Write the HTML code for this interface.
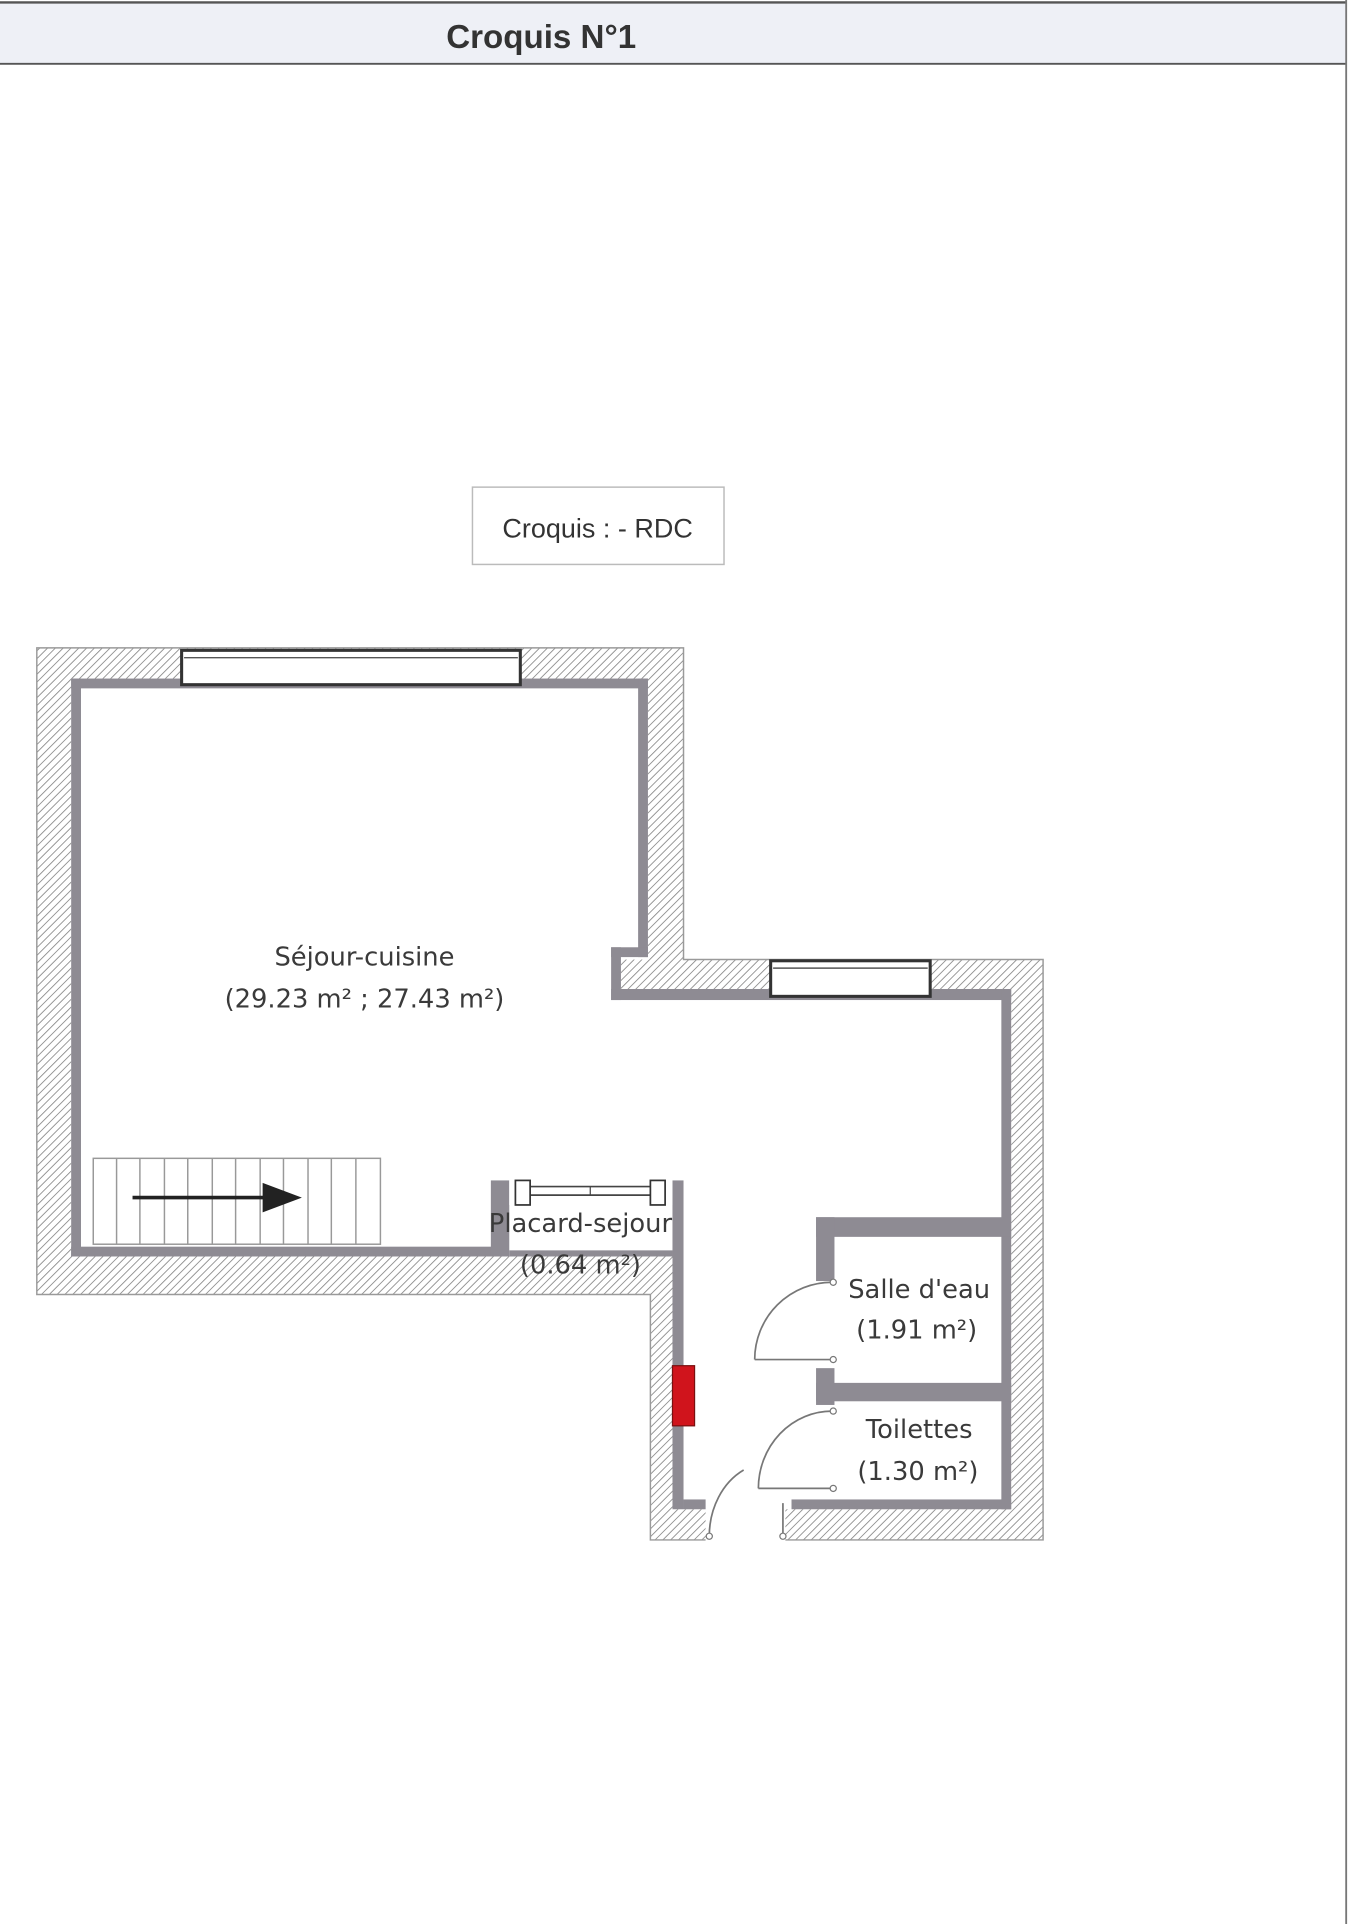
<!DOCTYPE html>
<html><head><meta charset="utf-8">
<style>
html,body{margin:0;padding:0;background:#fff;width:1356px;height:1924px;overflow:hidden}
svg{display:block}
text{font-family:"Liberation Sans",sans-serif;fill:#333}
.l{font-family:"DejaVu Sans",sans-serif;font-size:21px;fill:#3a3a3a;text-anchor:middle}
</style></head><body>
<svg width="1356" height="1924" viewBox="0 0 1105 1568" preserveAspectRatio="none" xmlns="http://www.w3.org/2000/svg">
<defs>
<pattern id="h" width="4.5" height="4.5" patternUnits="userSpaceOnUse" patternTransform="rotate(45)">
<rect width="4.5" height="4.5" fill="#fff"/><line x1="0" y1="0" x2="0" y2="4.5" stroke="#8a8a8a" stroke-width="1.4"/>
</pattern>
</defs>
<!-- header -->
<rect x="0" y="2" width="1097" height="50" fill="#eef0f6"/>
<line x1="0" y1="2" x2="1097" y2="2" stroke="#555" stroke-width="2"/>
<line x1="0" y1="52" x2="1097" y2="52" stroke="#555" stroke-width="1.5"/>
<line x1="1097" y1="0" x2="1097" y2="1568" stroke="#777" stroke-width="1.5"/>
<text x="441" y="39" font-size="27" font-weight="bold" text-anchor="middle" fill="#444">Croquis N°1</text>
<!-- title box -->
<rect x="385" y="397" width="205" height="63" fill="#fff" stroke="#bbb" stroke-width="1.2"/>
<text x="487" y="438" font-size="22" text-anchor="middle" fill="#444">Croquis : - RDC</text>
<!-- hatched walls -->
<g fill="url(#h)">
<rect x="30" y="528" width="527" height="25"/>
<rect x="30" y="528" width="28" height="527"/>
<rect x="30" y="1024" width="518" height="31"/>
<rect x="528" y="528" width="29" height="254"/>
<rect x="506" y="782" width="344" height="24"/>
<rect x="824" y="782" width="26" height="473"/>
<rect x="640" y="1230" width="210" height="25"/>
<rect x="530" y="1230" width="45" height="25"/>
<rect x="530" y="1024" width="18" height="231"/>
</g>
<!-- outer outline -->
<g fill="none" stroke="#9a9a9a" stroke-width="1.2">
<path d="M575,1255 L530,1255 L530,1055 L30,1055 L30,528 L557,528 L557,782 L850,782 L850,1255 L640,1255"/>
</g>
<!-- grey inner walls -->
<g fill="#8e8b93">
<rect x="58" y="553" width="470" height="8"/>
<rect x="58" y="553" width="8" height="471"/>
<rect x="58" y="1016" width="350" height="8"/>
<rect x="400" y="962" width="15" height="62"/>
<rect x="415" y="1019" width="133" height="5"/>
<rect x="548" y="962" width="9" height="268"/>
<rect x="520" y="553" width="8" height="227"/>
<rect x="498" y="772" width="30" height="8"/>
<rect x="498" y="772" width="8" height="43"/>
<rect x="498" y="806" width="326" height="9"/>
<rect x="816" y="806" width="8" height="424"/>
<rect x="557" y="1222" width="18" height="8"/>
<rect x="645" y="1222" width="179" height="8"/>
<rect x="665" y="992" width="159" height="16"/>
<rect x="665" y="992" width="15" height="52"/>
<rect x="665" y="1115" width="15" height="30"/>
<rect x="665" y="1127" width="159" height="15"/>
</g>
<!-- windows -->
<rect x="148" y="530" width="276" height="28" fill="#fff" stroke="#333" stroke-width="2.5"/>
<line x1="150" y1="536" x2="422" y2="536" stroke="#555" stroke-width="1.2"/>
<rect x="628" y="783" width="130" height="29" fill="#fff" stroke="#333" stroke-width="2.5"/>
<line x1="630" y1="789" x2="756" y2="789" stroke="#555" stroke-width="1.2"/>
<!-- placard doors -->
<rect x="415" y="962" width="133" height="20" fill="#fff"/>
<line x1="432" y1="967" x2="530" y2="967" stroke="#444" stroke-width="1.4"/>
<line x1="432" y1="974" x2="530" y2="974" stroke="#444" stroke-width="1.4"/>
<line x1="481" y1="967" x2="481" y2="974" stroke="#444" stroke-width="1"/>
<rect x="420" y="962" width="12" height="20" fill="#fff" stroke="#333" stroke-width="1.4"/>
<rect x="530" y="962" width="12" height="20" fill="#fff" stroke="#333" stroke-width="1.4"/>
<!-- stairs -->
<rect x="76" y="944" width="234" height="70" fill="#fff" stroke="#999" stroke-width="1.2"/>
<g stroke="#999" stroke-width="1.2">
<line x1="95" y1="944" x2="95" y2="1014"/><line x1="114" y1="944" x2="114" y2="1014"/><line x1="134" y1="944" x2="134" y2="1014"/><line x1="153" y1="944" x2="153" y2="1014"/><line x1="173" y1="944" x2="173" y2="1014"/><line x1="192" y1="944" x2="192" y2="1014"/><line x1="212" y1="944" x2="212" y2="1014"/><line x1="231" y1="944" x2="231" y2="1014"/><line x1="251" y1="944" x2="251" y2="1014"/><line x1="270" y1="944" x2="270" y2="1014"/><line x1="290" y1="944" x2="290" y2="1014"/>
</g>
<line x1="108" y1="976" x2="218" y2="976" stroke="#222" stroke-width="3"/>
<polygon points="214,964 246,976 214,988" fill="#222"/>
<!-- red element -->
<rect x="548" y="1113" width="18" height="49" fill="#d0141c" stroke="#7a1010" stroke-width="1"/>
<!-- doors -->
<g fill="none" stroke="#777" stroke-width="1.4">
<path d="M678,1045 A63,63 0 0 0 615,1108"/>
<line x1="615" y1="1108" x2="678" y2="1108"/>
<path d="M678,1150 A60,63 0 0 0 618,1213"/>
<line x1="618" y1="1213" x2="678" y2="1213"/>
<path d="M606,1198 A50,60 0 0 0 578,1252"/>
<line x1="638" y1="1225" x2="638" y2="1252"/>
</g>
<g fill="#fff" stroke="#777" stroke-width="1">
<circle cx="679" cy="1045" r="2.5"/><circle cx="679" cy="1108" r="2.5"/>
<circle cx="679" cy="1150" r="2.5"/><circle cx="679" cy="1213" r="2.5"/>
<circle cx="578" cy="1252" r="2.5"/><circle cx="638" cy="1252" r="2.5"/>
</g>
<!-- labels -->
<text class="l" x="297" y="787">Séjour-cuisine</text>
<text class="l" x="297" y="821">(29.23 m² ; 27.43 m²)</text>
<text class="l" x="473" y="1004">Placard-sejour</text>
<text class="l" x="473" y="1038">(0.64 m²)</text>
<text class="l" x="749" y="1058">Salle d'eau</text>
<text class="l" x="747" y="1091">(1.91 m²)</text>
<text class="l" x="749" y="1172">Toilettes</text>
<text class="l" x="748" y="1206">(1.30 m²)</text>
</svg>
</body></html>
